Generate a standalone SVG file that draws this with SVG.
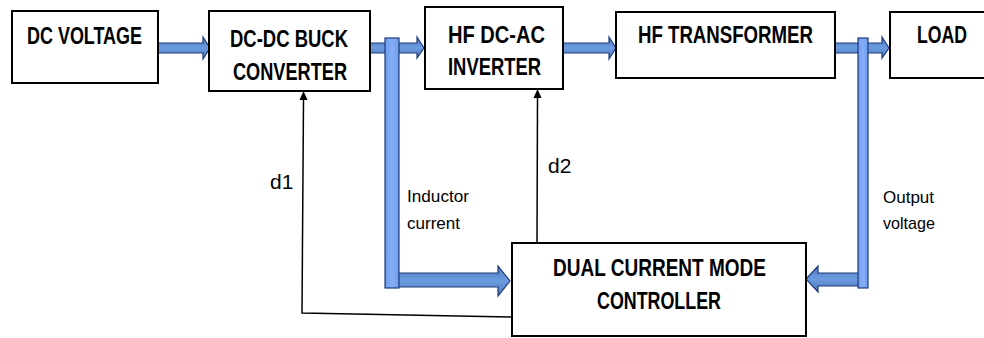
<svg xmlns="http://www.w3.org/2000/svg" width="984" height="338" viewBox="0 0 984 338">
<style>
.box{fill:#fff;stroke:#000;stroke-width:2}
.t{font-family:"Liberation Sans",Arial,sans-serif;font-weight:bold;font-size:23px;fill:#000;text-anchor:start}
.s{font-family:"Liberation Sans",Arial,sans-serif;font-size:17px;fill:#000}
.l{font-family:"Liberation Sans",Arial,sans-serif;font-size:21px;fill:#000}
.arr{fill:url(#gh);stroke:#1F3A7A;stroke-width:1.2;stroke-linejoin:miter}
.bar{fill:url(#gv);stroke:#1F3A7A;stroke-width:1.2}
.ln{fill:none;stroke:#000;stroke-width:1.5}
</style>
<defs>
<linearGradient id="gh" x1="0" y1="0" x2="0" y2="1">
<stop offset="0" stop-color="#4A78BE"/><stop offset="0.5" stop-color="#6C9BE0"/><stop offset="1" stop-color="#4A78BE"/>
</linearGradient>
<linearGradient id="gv" x1="0" y1="0" x2="1" y2="0">
<stop offset="0" stop-color="#6E9CEB"/><stop offset="0.5" stop-color="#86AEF7"/><stop offset="1" stop-color="#6E9CEB"/>
</linearGradient>
</defs>

<g id="connectors">
<polygon class="arr" points="158,43 203,43 203,37 210,48 203,59 203,53 158,53"/>
<polygon class="arr" points="370,43 417,43 417,37 424,48 417,58 417,53 370,53"/>
<polygon class="arr" points="563,43 609,43 609,37 616,48 609,59 609,53 563,53"/>
<polygon class="arr" points="835,43 882,43 882,37 889,48 882,58 882,53 835,53"/>
<polygon class="arr" points="392,273 498,273 498,266 510,281 498,296 498,287 392,287"/>
<polygon class="arr" points="863,273 818,273 818,266 806,279 818,292 818,286 863,286"/>
<rect class="bar" x="385" y="38" width="14" height="250"/>
<rect class="bar" x="858" y="38" width="10" height="250"/>
<polyline class="ln" points="512,317 302,313 303.5,100" />
<path d="M299.5,100 L303.5,91 L307.5,100 Z" fill="#000"/>
<line class="ln" x1="537" y1="243" x2="537.5" y2="98"/>
<path d="M533.5,98 L537.5,89 L541.5,98 Z" fill="#000"/>
<text class="l" x="270" y="189">d1</text>
<text class="l" x="548" y="173">d2</text>
<text class="s" x="407" y="202" textLength="62" lengthAdjust="spacingAndGlyphs">Inductor</text>
<text class="s" x="407" y="229" textLength="53" lengthAdjust="spacingAndGlyphs">current</text>
<text class="s" x="883" y="203" textLength="51" lengthAdjust="spacingAndGlyphs">Output</text>
<text class="s" x="883" y="229" textLength="52" lengthAdjust="spacingAndGlyphs">voltage</text>
</g>

<g id="dc-voltage">
<rect class="box" x="12" y="11" width="146" height="72"/>
<text class="t" x="27" y="44" textLength="115" lengthAdjust="spacingAndGlyphs">DC VOLTAGE</text>
</g>
<g id="buck">
<rect class="box" x="209" y="11" width="161" height="80"/>
<text class="t" x="230" y="47" textLength="118" lengthAdjust="spacingAndGlyphs">DC-DC BUCK</text>
<text class="t" x="233" y="80" textLength="114" lengthAdjust="spacingAndGlyphs">CONVERTER</text>
</g>
<g id="inverter">
<rect class="box" x="425" y="7" width="138" height="82"/>
<text class="t" x="448" y="43" textLength="97" lengthAdjust="spacingAndGlyphs">HF DC-AC</text>
<text class="t" x="448" y="75" textLength="93" lengthAdjust="spacingAndGlyphs">INVERTER</text>
</g>
<g id="transformer">
<rect class="box" x="616" y="12" width="219" height="66"/>
<text class="t" x="638" y="43" textLength="175" lengthAdjust="spacingAndGlyphs">HF TRANSFORMER</text>
</g>
<g id="load">
<rect class="box" x="890" y="12" width="104" height="66"/>
<text class="t" x="917" y="43" textLength="50" lengthAdjust="spacingAndGlyphs">LOAD</text>
</g>
<g id="controller">
<rect class="box" x="512" y="243" width="294" height="93"/>
<text class="t" x="553" y="276" textLength="213" lengthAdjust="spacingAndGlyphs">DUAL CURRENT MODE</text>
<text class="t" x="597" y="309" textLength="124" lengthAdjust="spacingAndGlyphs">CONTROLLER</text>
</g>
</svg>
